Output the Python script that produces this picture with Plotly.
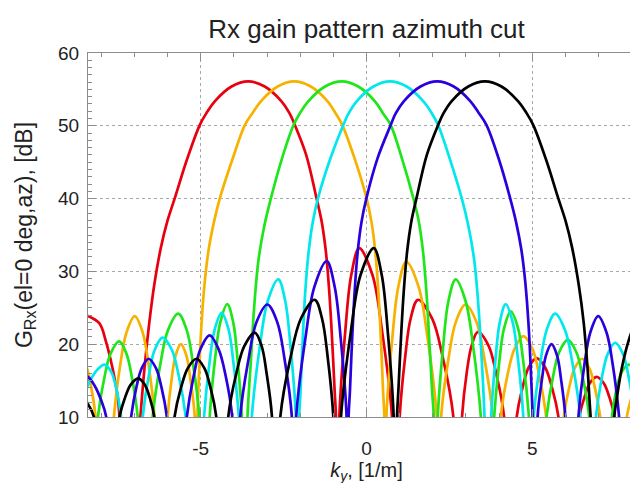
import plotly.graph_objects as go

# ---------------- values (ky in 1/m, gain in dB) ----------------
# -10 marks a null (below the visible range of the chart)
RED_KY = [-8.65, -8.46, -8.06, -7.86, -7.66, -7.5, -7.45, -7.15,
          -6.82, -6.7, -6.55, -6.4, -6.2, -6.0, -5.78, -5.42, -5.03, -4.82, -4.57, -4.07, -3.57,
          -3.07, -2.57, -2.32, -2.16, -1.82, -1.51, -1.35, -1.22, -1.12, -1.03, -0.96, -0.92, -0.87,
          -0.82, -0.64, -0.46, -0.22, 0.18, 0.47, 0.77, 0.88,
          1.0, 1.165, 1.33, 1.55, 1.98, 2.30, 2.62, 2.75,
          2.88, 3.02, 3.17, 3.36, 3.68, 3.91, 4.15, 4.33,
          4.53, 4.71, 4.89, 5.13, 5.39, 5.59, 5.79, 6.1,
          6.42, 6.58, 6.73, 6.94, 7.16, 7.32, 7.48, 7.78,
          8.1, 8.3, 8.5, 8.65]
RED_DB = [24.3, 24.0, 22.9, 20.4, 16.7, 12.6, 10, -10,
          10, 16.5, 23.0, 28.2, 33.3, 37.0, 40.1, 45.3, 50.1, 51.8, 53.4, 55.4, 56.1,
          55.4, 53.4, 51.7, 50.1, 46.0, 40.1, 36.8, 32.5, 27.0, 20.0, 13.5, 10, -10,
          10, 21.8, 29.5, 33.2, 29.5, 21.8, 10, -10,
          10, 18.2, 23.5, 26.1, 23.5, 18.2, 10, -10,
          10, 16.0, 19.8, 21.7, 19.8, 16.0, 10, -10,
          10, 14.1, 16.8, 18.1, 16.8, 14.1, 10, -10,
          10, 12.8, 14.6, 15.5, 14.6, 12.8, 10, -10,
          10, 11.8, 13.0, 13.6]

ORANGE_KY = [-8.65, -8.46, -8.3, -8.17, -7.9,
             -7.62, -7.43, -7.24, -6.99, -6.75, -6.57, -6.39, -6.2,
             -6.0, -5.88, -5.76, -5.6, -5.43, -5.31, -5.18, -5.14,
             -5.1, -5.05, -4.98, -4.88, -4.76, -4.6, -4.42, -4.05, -3.67, -3.43, -3.18, -2.68, -2.18,
             -1.68, -1.18, -0.93, -0.73, -0.38, 0.0, 0.15, 0.27, 0.36, 0.44, 0.5, 0.54, 0.57,
             0.6, 0.78, 0.96, 1.2, 1.57, 1.84, 2.12, 2.18,
             2.25, 2.47, 2.69, 2.99, 3.32, 3.56, 3.81, 3.93,
             4.05, 4.25, 4.46, 4.73, 5.01, 5.21, 5.42, 5.7,
             5.95, 6.115, 6.28, 6.5, 6.72, 6.885, 7.05, 7.45,
             7.85, 8.02, 8.2, 8.4, 8.6]
ORANGE_DB = [17.9, 17.0, 14.0, 10, -10,
             10, 17.1, 21.6, 23.85, 21.6, 17.1, 10, -10,
             10, 15.1, 18.4, 20.0, 18.4, 15.1, 10, -10,
             10, 16.0, 22.5, 28.5, 33.0, 36.8, 40.1, 45.3, 50.1, 51.8, 53.4, 55.4, 56.1,
             55.4, 53.4, 51.7, 50.1, 45.8, 40.1, 36.8, 32.5, 27.0, 20.0, 13.5, 10, -10,
             10, 20.9, 27.9, 31.3, 27.9, 20.9, 10, -10,
             10, 17.9, 23.0, 25.45, 23.0, 17.9, 10, -10,
             10, 15.7, 19.3, 21.1, 19.3, 15.7, 10, -10,
             10, 14.1, 16.7, 18.0, 16.7, 14.1, 10, -10,
             10, 13.0, 14.8, 15.6, 15.9]

GREEN_KY = [-8.5,
            -8.1, -7.91, -7.72, -7.46, -7.24, -7.07, -6.9, -6.68,
            -6.45, -6.22, -5.99, -5.68, -5.42, -5.23, -5.04, -4.88,
            -4.73, -4.57, -4.41, -4.2, -4.02, -3.89, -3.76, -3.69,
            -3.59, -3.49, -3.39, -3.26, -3.08, -2.88, -2.55, -2.2, -2.0, -1.75, -1.25, -0.75,
            -0.25, 0.25, 0.5, 0.73, 1.07, 1.41, 1.58, 1.71, 1.81, 1.9, 1.98, 2.03, 2.09,
            2.15, 2.31, 2.47, 2.69, 2.99, 3.22, 3.45, 3.65,
            3.85, 4.0, 4.15, 4.35, 4.57, 4.735, 4.9, 5.1,
            5.43, 5.62, 5.81, 6.07, 6.33, 6.525, 6.72, 7.0,
            7.4, 7.55, 7.7, 7.9, 8.1, 8.3, 8.45, 8.6]
GREEN_DB = [-10,
            10, 15.3, 18.7, 20.4, 18.7, 15.3, 10, -10,
            10, 17.2, 21.9, 24.2, 21.9, 17.2, 10, -10,
            10, 17.9, 23.0, 25.5, 23.0, 17.9, 10, -10,
            10, 17.5, 25.0, 31.5, 36.3, 40.1, 45.5, 50.1, 51.8, 53.4, 55.4, 56.1,
            55.4, 53.4, 51.7, 50.1, 45.5, 40.1, 36.8, 32.5, 27.0, 20.0, 13.5, 10, -10,
            10, 19.6, 25.9, 28.9, 25.9, 19.6, 10, -10,
            10, 17.4, 22.2, 24.5, 22.2, 17.4, 10, -10,
            10, 15.4, 18.9, 20.6, 18.9, 15.4, 10, -10,
            10, 14.0, 16.2, 17.2, 16.6, 15.3, 13.8, 11.5]

CYAN_KY = [-8.6, -8.45, -8.3, -8.1, -7.9, -7.7, -7.55, -7.4, -7.0,
           -6.75, -6.57, -6.39, -6.15, -5.87, -5.66, -5.45, -5.1,
           -4.9, -4.74, -4.58, -4.37, -4.16, -4.01, -3.85, -3.65,
           -3.46, -3.22, -2.98, -2.66, -2.45, -2.29, -2.13, -2.08,
           -2.03, -1.99, -1.93, -1.85, -1.75, -1.62, -1.46, -1.09, -0.70, -0.54, -0.29, 0.21, 0.71,
           1.21, 1.71, 1.96, 2.16, 2.51, 2.87, 3.07, 3.25, 3.38, 3.48, 3.56, 3.66,
           3.76, 3.89, 4.02, 4.2, 4.41, 4.57, 4.73, 4.88,
           5.04, 5.235, 5.43, 5.69, 5.99, 6.22, 6.45, 6.68,
           6.92, 7.09, 7.27, 7.5, 7.74, 7.92, 8.1, 8.5]
CYAN_DB = [11.5, 13.8, 15.3, 16.6, 17.2, 16.2, 14.0, 10, -10,
           10, 15.6, 19.2, 20.9, 19.2, 15.6, 10, -10,
           10, 17.3, 22.0, 24.3, 22.0, 17.3, 10, -10,
           10, 19.6, 25.9, 28.9, 25.9, 19.6, 10, -10,
           10, 13.5, 20.0, 27.0, 32.5, 36.8, 40.1, 45.5, 50.1, 51.7, 53.4, 55.4, 56.1,
           55.4, 53.4, 51.8, 50.1, 45.5, 40.1, 36.3, 31.5, 25.0, 17.5, 10, -10,
           10, 17.9, 23.0, 25.5, 23.0, 17.9, 10, -10,
           10, 17.2, 21.9, 24.2, 21.9, 17.2, 10, -10,
           10, 15.2, 18.6, 20.2, 18.6, 15.2, 10, -10]

BLUE_KY = [-8.65, -8.4, -8.2, -8.02, -7.85, -7.5,
           -7.1, -6.94, -6.78, -6.57, -6.35, -6.185, -6.02, -5.75,
           -5.42, -5.21, -5.01, -4.73, -4.46, -4.25, -4.05, -3.93,
           -3.81, -3.56, -3.32, -2.99, -2.69, -2.47, -2.25, -2.18,
           -2.12, -1.84, -1.57, -1.2, -0.96, -0.78, -0.6, -0.565,
           -0.54, -0.5, -0.44, -0.36, -0.27, -0.15, 0.0, 0.33, 0.73, 0.88, 1.13, 1.63, 2.13,
           2.63, 3.13, 3.38, 3.62, 4.0, 4.33, 4.51, 4.67, 4.79, 4.89, 4.96, 5.01, 5.09,
           5.16, 5.29, 5.41, 5.58, 5.75, 5.87, 6.0, 6.2,
           6.39, 6.57, 6.75, 6.99, 7.24, 7.43, 7.62, 7.9,
           8.17, 8.3, 8.45, 8.65]
BLUE_DB = [15.9, 15.5, 14.3, 12.5, 10, -10,
           10, 14.1, 16.7, 18.0, 16.7, 14.1, 10, -10,
           10, 15.7, 19.3, 21.2, 19.3, 15.7, 10, -10,
           10, 17.9, 23.0, 25.45, 23.0, 17.9, 10, -10,
           10, 20.9, 27.9, 31.4, 27.9, 20.9, 10, -10,
           10, 13.5, 20.0, 27.0, 32.5, 36.8, 40.1, 45.5, 50.1, 51.7, 53.4, 55.4, 56.1,
           55.4, 53.4, 51.8, 50.1, 45.3, 40.1, 36.8, 33.0, 28.5, 22.5, 16.0, 10, -10,
           10, 15.1, 18.4, 20.0, 18.4, 15.1, 10, -10,
           10, 17.1, 21.6, 23.85, 21.6, 17.1, 10, -10,
           10, 14.0, 17.0, 17.9]

BLACK_KY = [-8.65, -8.46, -8.22, -7.85,
            -7.45, -7.28, -7.11, -6.88, -6.69, -6.54, -6.4, -6.1,
            -5.79, -5.59, -5.39, -5.13, -4.89, -4.71, -4.53, -4.33,
            -4.17, -3.93, -3.69, -3.37, -3.16, -3.01, -2.85, -2.72,
            -2.6, -2.29, -1.98, -1.56, -1.34, -1.17, -1.0, -0.89,
            -0.77, -0.47, -0.18, 0.22, 0.46, 0.64, 0.82, 0.87,
            0.92, 0.96, 1.03, 1.12, 1.22, 1.35, 1.51, 1.82, 2.16, 2.32, 2.57, 3.07, 3.57,
            4.07, 4.57, 4.82, 5.03, 5.42, 5.78, 6.0, 6.2, 6.4, 6.55, 6.67, 6.76, 7.1,
            7.47, 7.55, 7.7, 7.9, 8.1, 8.3, 8.46, 8.65]
BLACK_DB = [13.4, 12.2, 10, -10,
            10, 12.7, 14.45, 15.3, 14.45, 12.7, 10, -10,
            10, 14.1, 16.7, 18.0, 16.7, 14.1, 10, -10,
            10, 15.9, 19.7, 21.6, 19.7, 15.9, 10, -10,
            10, 18.2, 23.5, 26.1, 23.5, 18.2, 10, -10,
            10, 21.8, 29.5, 33.2, 29.5, 21.8, 10, -10,
            10, 13.5, 20.0, 27.0, 32.5, 36.8, 40.1, 46.0, 50.1, 51.7, 53.4, 55.4, 56.1,
            55.4, 53.4, 51.8, 50.1, 45.3, 40.1, 37.0, 33.3, 28.2, 23.0, 16.5, 10, -10,
            10, 12.6, 16.7, 20.4, 22.7, 23.6, 24.0, 24.3]

SERIES = [
    ("red", RED_KY, RED_DB, "#e8000f"),
    ("orange", ORANGE_KY, ORANGE_DB, "#f7b200"),
    ("green", GREEN_KY, GREEN_DB, "#1ee61a"),
    ("cyan", CYAN_KY, CYAN_DB, "#00e8ec"),
    ("blue", BLUE_KY, BLUE_DB, "#2a00dc"),
    ("black", BLACK_KY, BLACK_DB, "#000000"),
]

X_TICKS = [-5, 0, 5]
X_TICK_LABELS = ["-5", "0", "5"]
Y_TICKS = [10, 20, 30, 40, 50, 60]
Y_TICK_LABELS = ["10", "20", "30", "40", "50", "60"]

FONT = "Liberation Sans, Arial, Helvetica, sans-serif"
TEXT_COLOR = "#222222"

fig = go.Figure()
for name, xs, ys, col in SERIES:
    fig.add_trace(go.Scatter(x=xs, y=ys, mode="lines", name=name,
                             line=dict(color=col, width=2.7, shape="spline", smoothing=1.0),
                             showlegend=False, hoverinfo="skip"))

axis_common = dict(
    showline=True, linecolor="#8c8c8c", linewidth=1, mirror="ticks",
    ticks="inside", ticklen=8, tickcolor="#8c8c8c", tickwidth=1,
    showgrid=True, gridcolor="#a8a8a8", griddash="dot", gridwidth=1,
    zeroline=False, tickfont=dict(family=FONT, size=19, color=TEXT_COLOR),
)

fig.update_layout(
    width=638, height=483,
    margin=dict(l=80, r=1, t=45, b=74),
    paper_bgcolor="white", plot_bgcolor="white",
    title=dict(text="Rx gain pattern azimuth cut", x=0.5, xref="paper", xanchor="center",
               y=0.957, yref="container", yanchor="middle",
               font=dict(family=FONT, size=26, color=TEXT_COLOR)),
    xaxis=dict(range=[-8.4, 8.4], tickvals=X_TICKS, ticktext=X_TICK_LABELS,
               minor=dict(dtick=1, tick0=0, ticks="inside", ticklen=4, tickcolor="#8c8c8c", showgrid=False),
               ticklabelstandoff=14,
               title=dict(text="<i>k<sub>y</sub></i>, [1/m]", standoff=0,
                          font=dict(family=FONT, size=20, color=TEXT_COLOR)),
               **axis_common),
    yaxis=dict(range=[10, 60], tickvals=Y_TICKS, ticktext=Y_TICK_LABELS,
               minor=dict(dtick=1, tick0=0, ticks="inside", ticklen=4, tickcolor="#8c8c8c", showgrid=False),
               ticklabelstandoff=4,
               title=dict(text="G<sub>Rx</sub>(el=0 deg,az), [dB]", standoff=19,
                          font=dict(family=FONT, size=23, color=TEXT_COLOR)),
               **axis_common),
)

fig.write_html("out.html")
